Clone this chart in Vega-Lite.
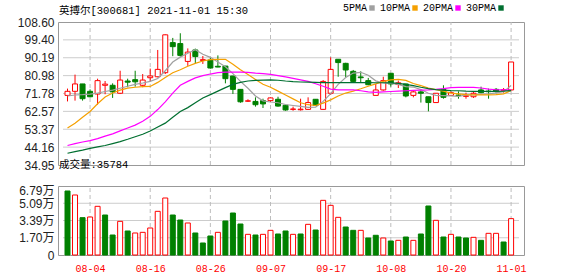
{
  "$schema": "https://vega.github.io/schema/vega-lite/v6.json",
  "padding": {"left": 16, "top": 3, "right": 0, "bottom": 0},
  "background": "#ffffff",
  "config": {
    "view": {"stroke": "#999999", "strokeWidth": 1},
    "font": "Liberation Sans",
    "axis": {"grid": false, "labelOverlap": false}
  },
  "datasets": {
    "k": [
      {"d":"07-30","i":0,"o":70.8,"h":74.3,"l":67.7,"c":72.9,"v":62980,"vd":"down","5PMA":70.5,"10PMA":54.0,"20PMA":45.0,"30PMA":41.0},
      {"d":"08-02","i":1,"o":72.9,"h":81.5,"l":68.1,"c":76.7,"v":59050,"vd":"up","5PMA":71.0,"10PMA":56.5,"20PMA":46.0,"30PMA":41.8},
      {"d":"08-03","i":2,"o":76.7,"h":76.7,"l":68.1,"c":69.1,"v":36740,"vd":"down","5PMA":71.2,"10PMA":59.5,"20PMA":46.8,"30PMA":42.6},
      {"d":"08-04","i":3,"o":72.9,"h":73.9,"l":69.8,"c":70.1,"v":37400,"vd":"up","5PMA":71.5,"10PMA":62.5,"20PMA":47.5,"30PMA":43.5},
      {"d":"08-05","i":4,"o":71.5,"h":79.4,"l":66.0,"c":78.4,"v":47900,"vd":"up","5PMA":72.0,"10PMA":66.5,"20PMA":48.5,"30PMA":44.3},
      {"d":"08-06","i":5,"o":76.0,"h":78.2,"l":71.4,"c":76.6,"v":39360,"vd":"down","5PMA":72.8,"10PMA":70.0,"20PMA":49.8,"30PMA":45.0},
      {"d":"08-09","i":6,"o":76.0,"h":77.0,"l":69.5,"c":72.6,"v":19680,"vd":"down","5PMA":73.5,"10PMA":72.0,"20PMA":51.0,"30PMA":46.0},
      {"d":"08-10","i":7,"o":71.9,"h":83.5,"l":71.5,"c":78.7,"v":33130,"vd":"up","5PMA":74.5,"10PMA":73.5,"20PMA":52.5,"30PMA":47.0},
      {"d":"08-11","i":8,"o":78.2,"h":79.4,"l":75.0,"c":77.6,"v":23620,"vd":"down","5PMA":75.5,"10PMA":74.5,"20PMA":54.0,"30PMA":48.2},
      {"d":"08-12","i":9,"o":78.9,"h":83.5,"l":75.3,"c":77.8,"v":21650,"vd":"up","5PMA":76.5,"10PMA":75.0,"20PMA":55.5,"30PMA":49.5},
      {"d":"08-13","i":10,"o":76.0,"h":81.8,"l":75.0,"c":78.7,"v":22300,"vd":"up","5PMA":77.2,"10PMA":75.3,"20PMA":57.5,"30PMA":50.8},
      {"d":"08-16","i":11,"o":79.9,"h":84.6,"l":78.0,"c":80.8,"v":26570,"vd":"up","5PMA":78.0,"10PMA":75.4,"20PMA":60.0,"30PMA":52.5},
      {"d":"08-17","i":12,"o":80.4,"h":94.2,"l":80.1,"c":84.2,"v":42970,"vd":"up","5PMA":79.5,"10PMA":77.5,"20PMA":63.5,"30PMA":54.5},
      {"d":"08-18","i":13,"o":82.5,"h":102.2,"l":81.8,"c":102.0,"v":56090,"vd":"up","5PMA":83.5,"10PMA":80.0,"20PMA":67.5,"30PMA":56.5},
      {"d":"08-19","i":14,"o":98.0,"h":100.4,"l":91.0,"c":95.9,"v":39360,"vd":"down","5PMA":88.0,"10PMA":82.5,"20PMA":72.0,"30PMA":59.5},
      {"d":"08-20","i":15,"o":97.5,"h":102.8,"l":90.8,"c":91.4,"v":34440,"vd":"down","5PMA":90.5,"10PMA":84.0,"20PMA":76.0,"30PMA":62.5},
      {"d":"08-23","i":16,"o":88.3,"h":95.0,"l":86.0,"c":93.1,"v":31490,"vd":"up","5PMA":92.5,"10PMA":85.8,"20PMA":78.0,"30PMA":64.5},
      {"d":"08-24","i":17,"o":94.2,"h":94.9,"l":87.3,"c":90.8,"v":21650,"vd":"down","5PMA":94.3,"10PMA":87.3,"20PMA":79.8,"30PMA":67.0},
      {"d":"08-25","i":18,"o":88.8,"h":91.1,"l":87.0,"c":89.2,"v":11810,"vd":"down","5PMA":92.0,"10PMA":88.5,"20PMA":81.0,"30PMA":69.5},
      {"d":"08-26","i":19,"o":89.0,"h":90.1,"l":84.6,"c":84.9,"v":18700,"vd":"down","5PMA":90.4,"10PMA":89.2,"20PMA":81.8,"30PMA":71.2},
      {"d":"08-27","i":20,"o":85.8,"h":91.4,"l":85.3,"c":85.4,"v":22300,"vd":"up","5PMA":88.0,"10PMA":89.4,"20PMA":82.5,"30PMA":73.0},
      {"d":"08-30","i":21,"o":85.9,"h":86.0,"l":77.0,"c":79.4,"v":33460,"vd":"down","5PMA":85.5,"10PMA":89.4,"20PMA":82.8,"30PMA":74.8},
      {"d":"08-31","i":22,"o":80.8,"h":80.8,"l":71.5,"c":73.9,"v":41330,"vd":"down","5PMA":82.0,"10PMA":86.8,"20PMA":82.8,"30PMA":76.5},
      {"d":"09-01","i":23,"o":73.9,"h":74.0,"l":67.0,"c":67.5,"v":30500,"vd":"down","5PMA":78.0,"10PMA":84.0,"20PMA":82.8,"30PMA":77.5},
      {"d":"09-02","i":24,"o":67.8,"h":68.8,"l":67.4,"c":68.0,"v":20340,"vd":"up","5PMA":74.5,"10PMA":81.5,"20PMA":82.7,"30PMA":78.2},
      {"d":"09-03","i":25,"o":67.7,"h":69.8,"l":65.0,"c":66.0,"v":19680,"vd":"down","5PMA":70.5,"10PMA":79.0,"20PMA":82.3,"30PMA":78.5},
      {"d":"09-06","i":26,"o":68.1,"h":69.1,"l":64.3,"c":66.4,"v":20340,"vd":"up","5PMA":68.0,"10PMA":76.5,"20PMA":82.0,"30PMA":78.7},
      {"d":"09-07","i":27,"o":68.1,"h":69.8,"l":67.4,"c":69.5,"v":24270,"vd":"up","5PMA":67.4,"10PMA":75.0,"20PMA":81.6,"30PMA":78.8},
      {"d":"09-08","i":28,"o":68.8,"h":70.1,"l":65.0,"c":65.3,"v":20670,"vd":"down","5PMA":67.0,"10PMA":73.0,"20PMA":81.0,"30PMA":78.6},
      {"d":"09-09","i":29,"o":65.7,"h":65.7,"l":62.9,"c":63.3,"v":23620,"vd":"down","5PMA":66.1,"10PMA":71.0,"20PMA":80.3,"30PMA":78.2},
      {"d":"09-10","i":30,"o":63.6,"h":65.0,"l":62.9,"c":63.8,"v":20340,"vd":"up","5PMA":65.6,"10PMA":69.0,"20PMA":79.6,"30PMA":77.9},
      {"d":"09-13","i":31,"o":63.4,"h":69.1,"l":63.0,"c":63.7,"v":20670,"vd":"down","5PMA":65.1,"10PMA":67.0,"20PMA":78.8,"30PMA":77.7},
      {"d":"09-14","i":32,"o":63.6,"h":69.8,"l":63.3,"c":67.1,"v":30180,"vd":"up","5PMA":64.6,"10PMA":66.0,"20PMA":78.0,"30PMA":77.6},
      {"d":"09-15","i":33,"o":68.8,"h":68.8,"l":65.3,"c":65.7,"v":24600,"vd":"down","5PMA":64.7,"10PMA":65.6,"20PMA":76.8,"30PMA":77.5},
      {"d":"09-16","i":34,"o":63.6,"h":78.7,"l":63.3,"c":78.0,"v":53800,"vd":"up","5PMA":67.7,"10PMA":66.8,"20PMA":75.5,"30PMA":77.4},
      {"d":"09-17","i":35,"o":71.9,"h":90.4,"l":71.0,"c":84.2,"v":48880,"vd":"up","5PMA":71.7,"10PMA":68.5,"20PMA":74.0,"30PMA":77.4},
      {"d":"09-22","i":36,"o":89.4,"h":89.4,"l":80.4,"c":87.7,"v":37070,"vd":"up","5PMA":76.5,"10PMA":70.5,"20PMA":73.6,"30PMA":77.4},
      {"d":"09-23","i":37,"o":87.3,"h":87.6,"l":80.1,"c":83.9,"v":27550,"vd":"down","5PMA":80.0,"10PMA":72.0,"20PMA":73.6,"30PMA":77.4},
      {"d":"09-24","i":38,"o":83.2,"h":83.9,"l":77.7,"c":78.0,"v":24270,"vd":"down","5PMA":82.3,"10PMA":73.0,"20PMA":73.6,"30PMA":77.4},
      {"d":"09-27","i":39,"o":80.3,"h":83.2,"l":77.4,"c":79.9,"v":24270,"vd":"up","5PMA":82.7,"10PMA":74.2,"20PMA":73.2,"30PMA":77.4},
      {"d":"09-28","i":40,"o":78.4,"h":79.8,"l":76.0,"c":76.3,"v":16730,"vd":"down","5PMA":81.2,"10PMA":75.5,"20PMA":72.6,"30PMA":77.4},
      {"d":"09-29","i":41,"o":70.8,"h":76.7,"l":70.8,"c":73.6,"v":19400,"vd":"down","5PMA":78.3,"10PMA":76.7,"20PMA":72.4,"30PMA":77.3},
      {"d":"09-30","i":42,"o":73.6,"h":80.4,"l":73.2,"c":78.4,"v":16730,"vd":"up","5PMA":77.2,"10PMA":78.0,"20PMA":72.6,"30PMA":77.3},
      {"d":"10-08","i":43,"o":82.2,"h":82.2,"l":75.3,"c":76.7,"v":13780,"vd":"down","5PMA":77.0,"10PMA":78.8,"20PMA":72.8,"30PMA":77.2},
      {"d":"10-11","i":44,"o":76.4,"h":78.4,"l":74.6,"c":77.3,"v":14430,"vd":"up","5PMA":76.5,"10PMA":79.0,"20PMA":73.0,"30PMA":77.0},
      {"d":"10-12","i":45,"o":76.7,"h":76.7,"l":69.8,"c":70.5,"v":17710,"vd":"down","5PMA":75.3,"10PMA":78.5,"20PMA":73.2,"30PMA":76.5},
      {"d":"10-13","i":46,"o":70.8,"h":73.2,"l":69.8,"c":72.6,"v":14430,"vd":"up","5PMA":75.1,"10PMA":76.9,"20PMA":73.4,"30PMA":75.8},
      {"d":"10-14","i":47,"o":72.6,"h":73.9,"l":67.1,"c":71.9,"v":20670,"vd":"down","5PMA":73.8,"10PMA":75.8,"20PMA":73.5,"30PMA":75.0},
      {"d":"10-15","i":48,"o":70.1,"h":70.1,"l":62.6,"c":67.1,"v":48220,"vd":"down","5PMA":71.9,"10PMA":74.6,"20PMA":73.6,"30PMA":74.3},
      {"d":"10-18","i":49,"o":67.1,"h":72.0,"l":67.0,"c":71.9,"v":34120,"vd":"up","5PMA":70.8,"10PMA":73.8,"20PMA":73.9,"30PMA":73.8},
      {"d":"10-19","i":50,"o":73.9,"h":76.0,"l":69.1,"c":69.8,"v":17710,"vd":"down","5PMA":70.7,"10PMA":73.0,"20PMA":74.3,"30PMA":73.5},
      {"d":"10-20","i":51,"o":70.8,"h":72.9,"l":70.5,"c":72.2,"v":20340,"vd":"up","5PMA":70.6,"10PMA":72.0,"20PMA":74.8,"30PMA":73.3},
      {"d":"10-21","i":52,"o":71.0,"h":72.9,"l":69.1,"c":70.7,"v":17710,"vd":"down","5PMA":70.3,"10PMA":71.6,"20PMA":74.9,"30PMA":73.2},
      {"d":"10-22","i":53,"o":70.3,"h":72.2,"l":69.1,"c":70.6,"v":16730,"vd":"down","5PMA":71.0,"10PMA":71.2,"20PMA":74.9,"30PMA":73.0},
      {"d":"10-25","i":54,"o":70.1,"h":72.9,"l":69.5,"c":71.9,"v":17380,"vd":"up","5PMA":71.0,"10PMA":71.1,"20PMA":74.9,"30PMA":72.9},
      {"d":"10-26","i":55,"o":73.6,"h":75.3,"l":71.9,"c":72.2,"v":14430,"vd":"down","5PMA":71.5,"10PMA":71.1,"20PMA":74.6,"30PMA":72.9},
      {"d":"10-27","i":56,"o":73.0,"h":74.3,"l":69.1,"c":72.7,"v":21320,"vd":"up","5PMA":71.6,"10PMA":71.1,"20PMA":74.0,"30PMA":72.9},
      {"d":"10-28","i":57,"o":73.9,"h":74.6,"l":71.9,"c":72.9,"v":21320,"vd":"up","5PMA":72.1,"10PMA":71.2,"20PMA":73.7,"30PMA":72.9},
      {"d":"10-29","i":58,"o":73.4,"h":74.6,"l":72.2,"c":73.7,"v":12790,"vd":"down","5PMA":72.7,"10PMA":71.6,"20PMA":73.6,"30PMA":73.0},
      {"d":"11-01","i":59,"o":73.6,"h":88.0,"l":73.4,"c":88.0,"v":35784,"vd":"up","5PMA":75.9,"10PMA":73.3,"20PMA":73.6,"30PMA":73.3}
    ],
    "dates": [{"t": 3}, {"t": 11}, {"t": 19}, {"t": 27}, {"t": 35}, {"t": 43}, {"t": 51}, {"t": 59}],
    "pticks": [{"g": 44.16}, {"g": 53.37}, {"g": 62.57}, {"g": 71.78}, {"g": 80.98}, {"g": 90.19}, {"g": 99.4}],
    "vticks": [{"g": 16975}, {"g": 33950}, {"g": 50925}]
  },
  "spacing": 21,
  "bounds": "flush",
  "vconcat": [
    {
      "width": 466,
      "height": 143,
      "title": {"text": "英搏尔[300681] 2021-11-01 15:30", "anchor": "start", "frame": "group", "font": "Liberation Mono, Noto Sans CJK SC", "fontSize": 10.5, "fontWeight": "normal", "color": "#000000", "baseline": "middle", "offset": -5, "dx": 1},
      "layer": [
        {
          "data": {"name": "pticks"},
          "mark": {"type": "rule", "strokeWidth": 1, "stroke": "#cccccc"},
          "encoding": {
            "x": {"datum": -0.6, "type": "quantitative", "scale": {"domain": [-0.6, 60.05], "nice": false, "zero": false}, "axis": null},
            "x2": {"datum": 60.05},
            "y": {"field": "g", "type": "quantitative", "title": null, "scale": {"domain": [34.95, 108.6], "nice": false, "zero": false}, "axis": {"values": [34.95, 44.16, 53.37, 62.57, 71.78, 80.98, 90.19, 99.4, 108.6], "format": ".2f", "grid": false, "labelOverlap": false, "domain": false, "ticks": false, "labelPadding": 4, "labelFont": "Liberation Sans", "labelFontSize": 12, "labelColor": "#222222"}}
          }
        },
        {
          "data": {"name": "dates"},
          "mark": {"type": "rule", "strokeWidth": 1, "stroke": "#bdbdbd", "strokeDash": [4, 3]},
          "encoding": {
            "x": {"field": "t", "type": "quantitative", "title": null, "scale": {"domain": [-0.6, 60.05], "nice": false, "zero": false}, "axis": null},
            "y": {"datum": 34.95, "type": "quantitative", "scale": {"domain": [34.95, 108.6], "nice": false, "zero": false}, "axis": {"values": [34.95, 44.16, 53.37, 62.57, 71.78, 80.98, 90.19, 99.4, 108.6], "format": ".2f", "grid": false, "labelOverlap": false, "domain": false, "ticks": false, "labelPadding": 4, "labelFont": "Liberation Sans", "labelFontSize": 12, "labelColor": "#222222"}},
            "y2": {"datum": 108.6}
          }
        },
        {
          "data": {"name": "k"},
          "mark": {"type": "rule", "strokeWidth": 1},
          "encoding": {
            "x": {"field": "i", "type": "quantitative", "title": null, "scale": {"domain": [-0.6, 60.05], "nice": false, "zero": false}, "axis": null},
            "y": {"field": "l", "type": "quantitative", "title": null, "scale": {"domain": [34.95, 108.6], "nice": false, "zero": false}, "axis": {"values": [34.95, 44.16, 53.37, 62.57, 71.78, 80.98, 90.19, 99.4, 108.6], "format": ".2f", "grid": false, "labelOverlap": false, "domain": false, "ticks": false, "labelPadding": 4, "labelFont": "Liberation Sans", "labelFontSize": 12, "labelColor": "#222222"}},
            "y2": {"field": "h"},
            "color": {"condition": {"test": "datum.c >= datum.o", "value": "#ff0000"}, "value": "#008000"}
          }
        },
        {
          "data": {"name": "k"},
          "mark": {"type": "bar", "size": 5, "strokeWidth": 1},
          "encoding": {
            "x": {"field": "i", "type": "quantitative", "title": null, "scale": {"domain": [-0.6, 60.05], "nice": false, "zero": false}, "axis": null},
            "y": {"field": "o", "type": "quantitative", "title": null, "scale": {"domain": [34.95, 108.6], "nice": false, "zero": false}, "axis": {"values": [34.95, 44.16, 53.37, 62.57, 71.78, 80.98, 90.19, 99.4, 108.6], "format": ".2f", "grid": false, "labelOverlap": false, "domain": false, "ticks": false, "labelPadding": 4, "labelFont": "Liberation Sans", "labelFontSize": 12, "labelColor": "#222222"}},
            "y2": {"field": "c"},
            "fill": {"condition": {"test": "datum.c >= datum.o", "value": "#ffffff"}, "value": "#008000"},
            "stroke": {"condition": {"test": "datum.c >= datum.o", "value": "#ff0000"}, "value": "#008000"}
          }
        },
        {
          "data": {"name": "k"},
          "transform": [{"fold": ["5PMA", "10PMA", "20PMA", "30PMA"], "as": ["ma", "val"]}],
          "mark": {"type": "line", "strokeWidth": 1.2},
          "encoding": {
            "x": {"field": "i", "type": "quantitative", "title": null, "scale": {"domain": [-0.6, 60.05], "nice": false, "zero": false}, "axis": null},
            "y": {"field": "val", "type": "quantitative", "title": null, "scale": {"domain": [34.95, 108.6], "nice": false, "zero": false}, "axis": {"values": [34.95, 44.16, 53.37, 62.57, 71.78, 80.98, 90.19, 99.4, 108.6], "format": ".2f", "grid": false, "labelOverlap": false, "domain": false, "ticks": false, "labelPadding": 4, "labelFont": "Liberation Sans", "labelFontSize": 12, "labelColor": "#222222"}},
            "color": {"field": "ma", "type": "nominal", "scale": {"domain": ["5PMA", "10PMA", "20PMA", "30PMA"], "range": ["#a0a0a0", "#f5a000", "#ff00ff", "#006f30"]},
              "legend": {"orient": "none", "legendX": 309, "legendY": -19, "direction": "horizontal", "title": null, "symbolType": "square", "symbolSize": 2, "symbolStrokeWidth": 4, "labelFont": "Liberation Mono", "labelFontSize": 10, "labelColor": "#000000", "labelAlign": "right", "labelOffset": -10, "columnPadding": -2, "gridAlign": "none"}}
          }
        }
      ]
    },
    {
      "width": 466,
      "height": 69,
      "title": {"text": "成交量:35784", "anchor": "start", "frame": "group", "font": "Liberation Mono, Noto Sans CJK SC", "fontSize": 10.5, "fontWeight": "normal", "color": "#000000", "baseline": "middle", "offset": 9, "dx": 1},
      "layer": [
        {
          "data": {"name": "vticks"},
          "mark": {"type": "rule", "strokeWidth": 1, "stroke": "#cccccc"},
          "encoding": {
            "x": {"datum": -0.6, "type": "quantitative", "scale": {"domain": [-0.6, 60.05], "nice": false, "zero": false}, "axis": {"values": [3, 11, 19, 27, 35, 43, 51, 59], "labelExpr": "['08-04','08-16','08-26','09-07','09-17','10-08','10-20','11-01'][(datum.value - 3) / 8]", "grid": false, "labelOverlap": false, "ticks": false, "domain": false, "labelColor": "#ff0000", "labelFont": "Liberation Mono", "labelFontSize": 10, "labelPadding": 8}},
            "x2": {"datum": 60.05},
            "y": {"field": "g", "type": "quantitative", "title": null, "scale": {"domain": [0, 67900], "nice": false, "zero": true}, "axis": {"values": [0, 16975, 33950, 50925, 67900], "labelExpr": "datum.value == 0 ? '0' : datum.value == 16975 ? '1.70万' : datum.value == 33950 ? '3.39万' : datum.value == 50925 ? '5.09万' : '6.79万'", "labelOffset": {"condition": {"test": "datum.value == 67900", "value": 4}, "value": 0}, "grid": false, "labelOverlap": false, "domain": false, "ticks": false, "labelPadding": 4, "labelFont": "Liberation Sans, Noto Sans CJK SC", "labelFontSize": 12, "labelColor": "#222222"}}
          }
        },
        {
          "data": {"name": "dates"},
          "mark": {"type": "rule", "strokeWidth": 1, "stroke": "#bdbdbd", "strokeDash": [4, 3]},
          "encoding": {
            "x": {"field": "t", "type": "quantitative", "title": null, "scale": {"domain": [-0.6, 60.05], "nice": false, "zero": false}, "axis": {"values": [3, 11, 19, 27, 35, 43, 51, 59], "labelExpr": "['08-04','08-16','08-26','09-07','09-17','10-08','10-20','11-01'][(datum.value - 3) / 8]", "grid": false, "labelOverlap": false, "ticks": false, "domain": false, "labelColor": "#ff0000", "labelFont": "Liberation Mono", "labelFontSize": 10, "labelPadding": 8}},
            "y": {"datum": 0, "type": "quantitative", "scale": {"domain": [0, 67900], "nice": false, "zero": true}, "axis": {"values": [0, 16975, 33950, 50925, 67900], "labelExpr": "datum.value == 0 ? '0' : datum.value == 16975 ? '1.70万' : datum.value == 33950 ? '3.39万' : datum.value == 50925 ? '5.09万' : '6.79万'", "labelOffset": {"condition": {"test": "datum.value == 67900", "value": 4}, "value": 0}, "grid": false, "labelOverlap": false, "domain": false, "ticks": false, "labelPadding": 4, "labelFont": "Liberation Sans, Noto Sans CJK SC", "labelFontSize": 12, "labelColor": "#222222"}},
            "y2": {"datum": 67900}
          }
        },
        {
          "data": {"name": "k"},
          "mark": {"type": "bar", "size": 5, "strokeWidth": 1},
          "encoding": {
            "x": {"field": "i", "type": "quantitative", "title": null, "scale": {"domain": [-0.6, 60.05], "nice": false, "zero": false}, "axis": {"values": [3, 11, 19, 27, 35, 43, 51, 59], "labelExpr": "['08-04','08-16','08-26','09-07','09-17','10-08','10-20','11-01'][(datum.value - 3) / 8]", "grid": false, "labelOverlap": false, "ticks": false, "domain": false, "labelColor": "#ff0000", "labelFont": "Liberation Mono", "labelFontSize": 10, "labelPadding": 8}},
            "y": {"field": "v", "type": "quantitative", "title": null, "scale": {"domain": [0, 67900], "nice": false, "zero": true}, "axis": {"values": [0, 16975, 33950, 50925, 67900], "labelExpr": "datum.value == 0 ? '0' : datum.value == 16975 ? '1.70万' : datum.value == 33950 ? '3.39万' : datum.value == 50925 ? '5.09万' : '6.79万'", "labelOffset": {"condition": {"test": "datum.value == 67900", "value": 4}, "value": 0}, "grid": false, "labelOverlap": false, "domain": false, "ticks": false, "labelPadding": 4, "labelFont": "Liberation Sans, Noto Sans CJK SC", "labelFontSize": 12, "labelColor": "#222222"}},
            "fill": {"condition": {"test": "datum.vd == 'up'", "value": "#ffffff"}, "value": "#008000"},
            "stroke": {"condition": {"test": "datum.vd == 'up'", "value": "#ff0000"}, "value": "#008000"}
          }
        }
      ]
    }
  ]
}
